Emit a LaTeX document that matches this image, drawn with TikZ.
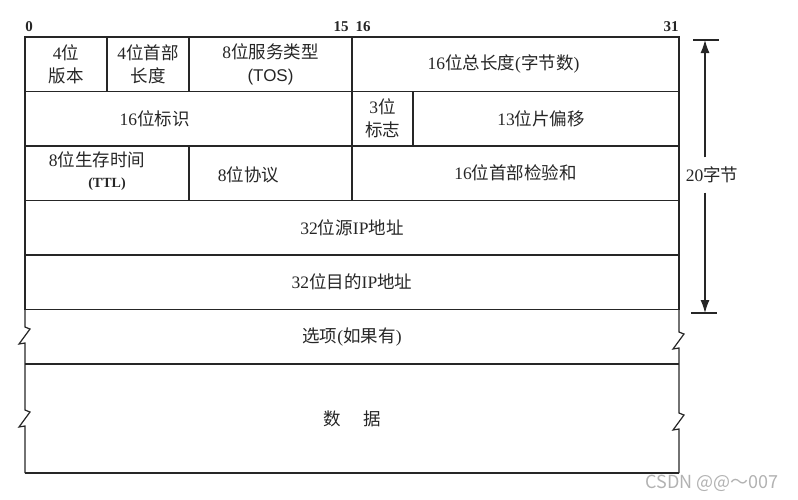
\documentclass[tikz,border=0pt]{standalone}
\usepackage{fontspec}
\setmainfont{Liberation Serif}
\newfontfamily\cjk{Noto Sans CJK SC}
\newfontfamily\arialfont{Liberation Sans}
\usetikzlibrary{positioning, arrows.meta}
\newcommand{\zh}[1]{{\cjk #1}}
\newcommand{\fieldfont}{\fontsize{17.5}{23}\selectfont}
\tikzset{
	field/.style    = {draw, rectangle, inner sep=0pt, outer sep=0pt, minimum height=54.5pt, align=center, font=\fieldfont},
	openfield/.style = {rectangle, inner sep=0pt, outer sep=0pt, minimum height=54.5pt, align=center, font=\fieldfont},
	cellnote/.style = {inner sep=0pt, align=center, font=\fieldfont},
	bitnum/.style   = {inner sep=0pt, font=\bfseries\fontsize{15}{15}\selectfont},
	tick/.style     = {coordinate},
	zigside/.style  = {insert path={-- ++(5,2) -- ++(-11,15) -- ++(6,-1)}},
	watermark/.style = {inner sep=0pt, text=gray!60, font=\cjk\fontsize{18}{18}\selectfont},
}

\begin{document}
\begin{tikzpicture}[x=1pt, y=-1pt, line width=1.2pt, color=black!85, >={Latex[length=13pt, width=9pt]}]
	\useasboundingbox (0,0) rectangle (798,499);

	% Bit numbers above the header
	\node[bitnum] (bit0)  at (29,27)  {0};
	\node[bitnum] (bit15) at (341,27) {15};
	\node[bitnum] (bit16) at (363,27) {16};
	\node[bitnum] (bit31) at (671,27) {31};

	% First word: version, header length, TOS, total length
	\node[field, anchor=north west, minimum width=82pt] (ver) at (25,37) {4\zh{位}\\\zh{版本}};
	\node[field, minimum width=82pt , right=0pt of ver ] (hlen) {4\zh{位首部}\\\zh{长度}};
	\node[field, minimum width=163pt, right=0pt of hlen] (tos) {8\zh{位服务类型}\\{\arialfont\fontsize{17}{23}\selectfont (TOS)}};
	\node[field, minimum width=327pt, right=0pt of tos , label={[cellnote, name=totlentxt, xshift=-12pt]center:16\zh{位总长度}(\zh{字节数})}] (totlen) {};

	% Second word: identification, flags, fragment offset
	\node[field, anchor=north west, minimum width=327pt, label={[cellnote, name=identtxt, xshift=-34pt]center:16\zh{位标识}}] (ident) at (ver.south west) {};
	\node[field, minimum width=61pt , right=0pt of ident] (flags) {3\zh{位}\\\zh{标志}};
	\node[field, minimum width=266pt, right=0pt of flags, label={[cellnote, name=fragtxt, xshift=-5pt]center:13\zh{位片偏移}}] (fragoff) {};

	% Third word: TTL, protocol, header checksum
	\node[field, anchor=north west, minimum width=164pt, label={[cellnote, name=ttltxt, xshift=-10pt, yshift=2pt]center:8\zh{位生存时间}\\[-2pt]\hspace*{20pt}{\bfseries\fontsize{14}{14}\selectfont (TTL)}}] (ttl) at (ident.south west) {};
	\node[field, minimum width=163pt, right=0pt of ttl, label={[cellnote, name=prototxt, xshift=-22pt, yshift=-2pt]center:8\zh{位协议}}] (proto) {};
	\node[field, minimum width=327pt, right=0pt of proto] (hcheck) {16\zh{位首部检验和}};

	% Addresses
	\node[field, anchor=north west, minimum width=654pt] (srcip) at (ttl.south west) {32\zh{位源}IP\zh{地址}};
	\node[field, anchor=north west, minimum width=654pt] (dstip) at (srcip.south west) {32\zh{位目的}IP\zh{地址}};

	% Options and data, open at the sides
	\node[openfield, anchor=north west, minimum width=654pt] (opts) at (dstip.south west) {\zh{选项}(\zh{如果有})};
	\node[openfield, anchor=north west, minimum width=654pt, minimum height=109pt] (data) at (opts.south west) {\zh{数}\hspace{22pt}\zh{据}};
	\draw (opts.south west) -- (opts.south east);
	\draw (data.south west) -- (data.south east);
	\draw (opts.north west) -- ++(0,17.5) [zigside] -- ++(0,67) [zigside] -- (data.south west);
	\draw (opts.north east) -- ++(0,22.5) [zigside] -- ++(0,65) [zigside] -- (data.south east);

	% Header length marker
	\node[tick] (toptick) at (705,40) {};
	\node[tick] (bottick) at (705,313) {};
	\node[cellnote, inner xsep=2pt, inner ysep=9pt] (bytes) at (712,175) {20\zh{字节}};
	\draw ([xshift=-12pt]toptick) -- ([xshift=14pt]toptick);
	\draw ([xshift=-14pt]bottick) -- ([xshift=12pt]bottick);
	\draw[->] (toptick |- bytes.north) -- (toptick);
	\draw[->] (bottick |- bytes.south) -- (bottick);

	\node[watermark] (csdn) at (712,483) {CSDN @@～007};
\end{tikzpicture}
\end{document}
